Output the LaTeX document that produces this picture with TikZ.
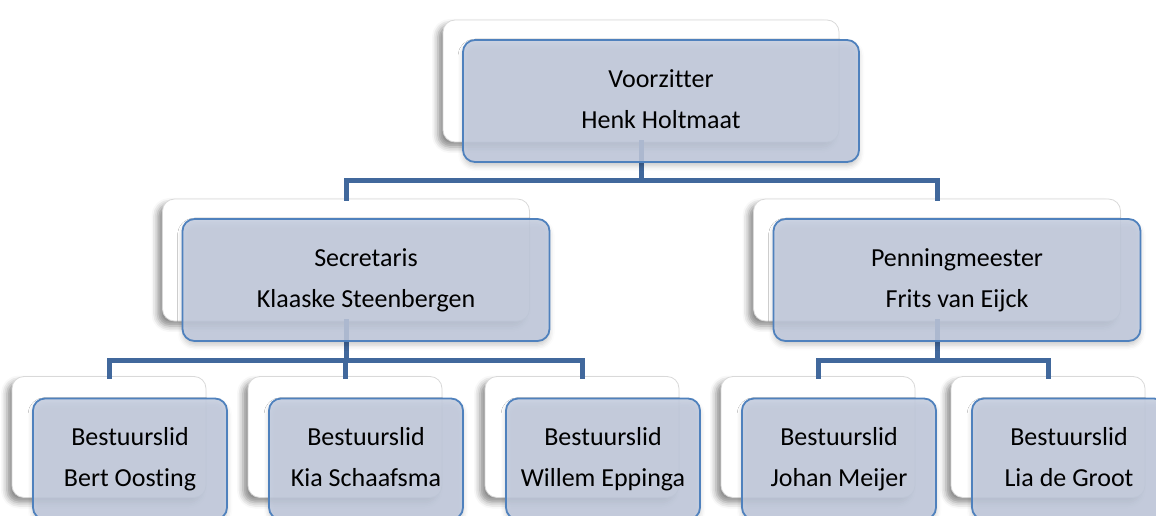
\documentclass[tikz,border=0pt]{standalone}
\usepackage{fontspec}
\setmainfont{Carlito}[Ligatures={NoCommon}]
\usepackage{tikz}
\usetikzlibrary{calc,shadows,shadows.blur}
\definecolor{linkblue}{HTML}{41689C}
\definecolor{edgeblue}{HTML}{4F81BD}
\definecolor{cardfill}{HTML}{C2CBDE}
\newcommand{\cardtext}[2]{#1 \\ #2\vphantom{gj}}

\begin{document}
\begin{tikzpicture}[x=0.5pt, y=0.5pt, font=\fontsize{13}{20.5}\selectfont]
\def \lw {2.5pt}
  \tikzstyle{backbox} = [draw=black!15, fill=white, rectangle, rounded corners=6pt, line width=0.4pt,
                         blur shadow={shadow xshift=-2.5pt, shadow yshift=-2.5pt, shadow opacity=45, shadow blur radius=3pt}]
  \tikzstyle{frontbox} = [draw=edgeblue, fill=cardfill, fill opacity=0.85, text opacity=1, rectangle,
                          rounded corners=6pt, line width=0.9pt, align=center, text=black, inner sep=0,
                          blur shadow={shadow xshift=0pt, shadow yshift=-2pt, shadow opacity=25, shadow blur radius=2.5pt}]
  \tikzstyle{wide} = [minimum width=198pt, minimum height=61pt]
  \tikzstyle{mid} = [minimum width=183.5pt, minimum height=61pt]
  \tikzstyle{small} = [minimum width=97pt, minimum height=60.5pt]
  \tikzstyle{lines} = [linkblue, line width=\lw, line cap=rect]

\clip (0, 0) rectangle (1156, 515);

%%%%%%%%%%%%%%%%%%%%%%%%%%%%%%%%%%%%%%%%%%%%%%%%%%%%%%%%%%%%%%%%%%%%%%%%%%%%%%%

\coordinate (chair_pose) at (641, 434);
\coordinate (secr_pose) at (346, 255);
\coordinate (treas_pose) at (937, 255);
\coordinate (bert_pose) at (109, 78);
\coordinate (kia_pose) at (345, 78);
\coordinate (willem_pose) at (582, 78);
\coordinate (johan_pose) at (818, 78);
\coordinate (lia_pose) at (1048, 78);

\coordinate (bus_top) at (641, 334);
\coordinate (bus_secr) at (346, 155);
\coordinate (bus_treas) at (937, 155);

%%%%%%%%%%%%%%%%%%%%%%%%%%%%%%%%%%%%%%%%%%%%%%%%%%%%%%%%%%%%%%%%%%%%%%%%%%%%%%%

\node[backbox, wide] (chair_b) at (chair_pose) {};
\node[backbox, mid] (secr_b) at (secr_pose) {};
\node[backbox, mid] (treas_b) at (treas_pose) {};
\node[backbox, small] (bert_b) at (bert_pose) {};
\node[backbox, small] (kia_b) at (kia_pose) {};
\node[backbox, small] (willem_b) at (willem_pose) {};
\node[backbox, small] (johan_b) at (johan_pose) {};
\node[backbox, small] (lia_b) at (lia_pose) {};

%%%%%%%%%%%%%%%%%%%%%%%%%%%%%%%%%%%%%%%%%%%%%%%%%%%%%%%%%%%%%%%%%%%%%%%%%%%%%%%

\draw[lines] (chair_b.south) -- (bus_top) -| (secr_b.north);
\draw[lines] (bus_top) -| (treas_b.north);
\draw[lines] (secr_b.south) -- (bus_secr) -| (bert_b.north);
\draw[lines] (bus_secr) -| (kia_b.north);
\draw[lines] (bus_secr) -| (willem_b.north);
\draw[lines] (treas_b.south) -- (bus_treas) -| (johan_b.north);
\draw[lines] (bus_treas) -| (lia_b.north);

%%%%%%%%%%%%%%%%%%%%%%%%%%%%%%%%%%%%%%%%%%%%%%%%%%%%%%%%%%%%%%%%%%%%%%%%%%%%%%%

\node[frontbox, wide] (chair) at ($(chair_pose)+(20,-20)$) {\cardtext{Voorzitter}{Henk Holtmaat}};
\node[frontbox, mid] (secr) at ($(secr_pose)+(20,-20)$) {\cardtext{Secretaris}{Klaaske Steenbergen}};
\node[frontbox, mid] (treas) at ($(treas_pose)+(20,-20)$) {\cardtext{Penningmeester}{Frits van Eijck}};
\node[frontbox, small] (bert) at ($(bert_pose)+(21,-22)$) {\cardtext{Bestuurslid}{Bert Oosting}};
\node[frontbox, small] (kia) at ($(kia_pose)+(21,-22)$) {\cardtext{Bestuurslid}{Kia Schaafsma}};
\node[frontbox, small] (willem) at ($(willem_pose)+(21,-22)$) {\cardtext{Bestuurslid}{Willem Eppinga}};
\node[frontbox, small] (johan) at ($(johan_pose)+(21,-22)$) {\cardtext{Bestuurslid}{Johan Meijer}};
\node[frontbox, small] (lia) at ($(lia_pose)+(21,-22)$) {\cardtext{Bestuurslid}{Lia de Groot}};

\end{tikzpicture}
\end{document}
